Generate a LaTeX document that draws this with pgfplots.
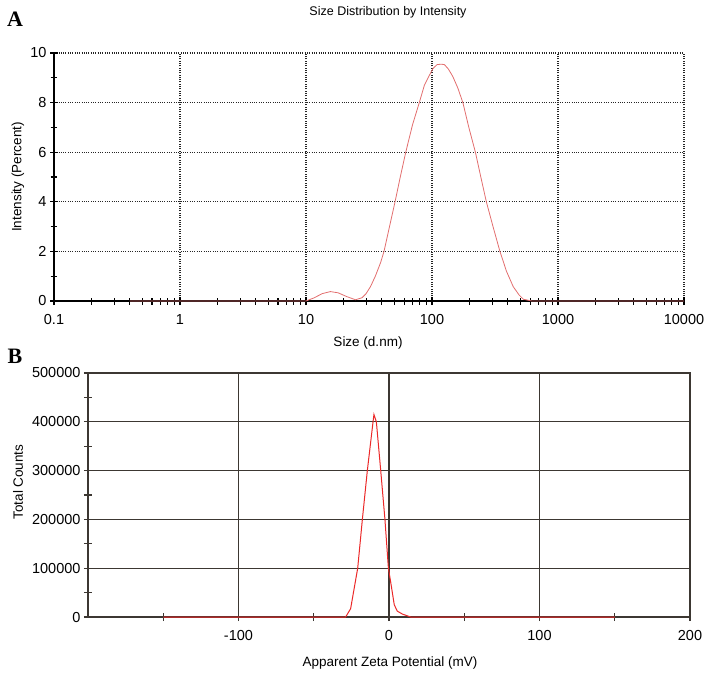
\documentclass[border=0pt]{standalone}
\usepackage{fontspec}
\setmainfont{Liberation Sans}
\newfontfamily\serifbold{Liberation Serif}
\usepackage{pgfplots}
\pgfplotsset{compat=1.18}

\definecolor{curveA}{RGB}{226,110,110}
\definecolor{curveB}{RGB}{235,40,40}
\definecolor{gridB}{RGB}{60,55,50}

\begin{document}
\begin{tikzpicture}
\path[use as bounding box] (0pt,0pt) rectangle (708pt,-676pt);

% ---- panel A: size distribution ----
\begin{axis}[
  at={(54pt,-301pt)}, anchor=south west,
  scale only axis, width=630pt, height=248pt,
  xmode=log, log basis x=10,
  xmin=0.1, xmax=10000, ymin=0, ymax=10,
  axis lines*=left,
  axis line style={black, line width=2.4pt},
  xtick={0.1,1,10,100,1000,10000},
  xticklabels={0.1,1,10,100,1000,10000},
  minor xtick={0.2,0.3,0.4,0.5,0.6,0.7,0.8,0.9,
    2,3,4,5,6,7,8,9,20,30,40,50,60,70,80,90,
    200,300,400,500,600,700,800,900,2000,3000,4000,5000,6000,7000,8000,9000},
  ytick={0,2,4,6,8,10},
  minor ytick={1,3,5,7,9},
  tick align=center,
  major tick length=8pt, minor tick length=7pt,
  every tick/.style={black, line width=1.1pt},
  grid=major,
  major grid style={black!85, line width=1.1pt, dash pattern=on 1pt off 1.3pt},
  xticklabel style={font=\fontsize{14.5}{14.5}\selectfont, yshift=-6pt},
  yticklabel style={font=\fontsize{14.5}{14.5}\selectfont},
  /pgf/number format/assume math mode=true,
  clip=false,
]
\addplot[curveA, line width=0.8pt] coordinates {
  (0.4,0) (10,0) (11.5,0.12) (13.5,0.3) (15.6,0.38) (18,0.33) (21,0.18)
  (24.7,0.05) (27.8,0.13) (30,0.3) (32.5,0.58) (35.5,1.0) (39.1,1.55)
  (41.6,2) (46,3) (50.9,4) (56,5) (61.9,6) (70,7.1) (79.3,8) (87,8.7)
  (95.3,9.1) (102,9.38) (109.6,9.53) (118,9.55) (125.6,9.53) (135,9.35)
  (146,9.06) (160,8.6) (175.8,8) (196,7) (221,6) (244,5) (270,4)
  (305,3) (346,2) (390,1.2) (441,0.58) (490,0.25) (531,0.07) (620,0)
  (10000,0)
};
\end{axis}

% ---- panel B: zeta potential ----
\begin{axis}[
  at={(88pt,-617pt)}, anchor=south west,
  scale only axis, width=602pt, height=244pt,
  xmin=-200, xmax=200, ymin=0, ymax=500000,
  axis line style={gridB, line width=1.3pt},
  xtick={-100,0,100,200},
  minor xtick={-150,-50,50,150},
  ytick={0,100000,200000,300000,400000,500000},
  minor ytick={50000,150000,250000,350000,450000},
  xtick pos=bottom, ytick pos=left,
  tick align=center,
  major tick length=8pt, minor tick length=8pt,
  every tick/.style={gridB, line width=1.1pt},
  grid=major,
  major grid style={gridB, line width=1.1pt},
  scaled y ticks=false,
  yticklabel style={/pgf/number format/fixed, /pgf/number format/1000 sep={},
    font=\fontsize{14.5}{14.5}\selectfont},
  xticklabel style={font=\fontsize{14.5}{14.5}\selectfont, yshift=-6pt},
  /pgf/number format/assume math mode=true,
  clip=false,
]
\addplot[curveB, line width=1pt] coordinates {
  (-150,0) (-28.8,0) (-25.5,17000) (-20.8,100000) (-17.7,200000)
  (-14.4,300000) (-10.6,400000) (-10,415000) (-8.4,400000) (-5.5,300000)
  (-2.7,200000) (-0.4,100000) (1.2,70000) (3.5,25000) (5.5,12000)
  (8.9,6000) (14.4,0) (150,0)
};
\end{axis}

% ---- text ----
\node[font=\fontsize{12.5}{12.5}\selectfont] at (388pt,-12pt) {Size Distribution by Intensity};
\node[font=\serifbold\bfseries\fontsize{22}{22}\selectfont] at (15pt,-19pt) {A};
\node[font=\serifbold\bfseries\fontsize{22}{22}\selectfont] at (15pt,-356pt) {B};
\node[font=\fontsize{13.5}{13.5}\selectfont] at (368pt,-343pt) {Size (d.nm)};
\node[font=\fontsize{13.5}{13.5}\selectfont, rotate=90] at (18pt,-177pt) {Intensity (Percent)};
\node[font=\fontsize{13.5}{13.5}\selectfont, rotate=90] at (18pt,-482pt) {Total Counts};
\node[font=\fontsize{13.5}{13.5}\selectfont] at (390pt,-663pt) {Apparent Zeta Potential (mV)};
\end{tikzpicture}
\end{document}
